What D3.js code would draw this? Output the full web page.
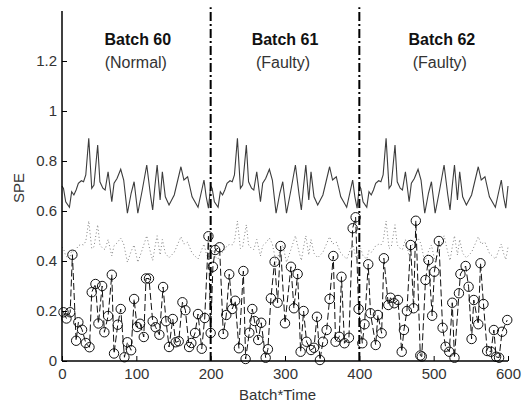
<!DOCTYPE html>
<html>
<head>
<meta charset="utf-8">
<script src="https://cdn.jsdelivr.net/npm/d3@7"></script>
<style>
  html, body { margin: 0; padding: 0; background: #fff; }
  svg { display: block; font-family: "Liberation Sans", Arial, sans-serif; }
</style>
</head>
<body>
<svg id="chart" width="528" height="406"></svg>
<script>
// ---- data ----
const batchNames = ["Batch 60", "Batch 61", "Batch 62"];
const batchStatus = ["(Normal)", "(Faulty)", "(Faulty)"];
const batchStarts = [0, 200, 400];
const batchLabelX = [102, 300, 511];
const boundaryX = [200, 400];

// control limits within one batch (same for every batch)
const limitTime = [0, 2, 5, 10, 13, 16, 19, 22, 26, 29, 32, 36, 40, 43, 48, 51, 55, 58, 62, 67, 70, 74, 79, 83, 88, 93, 97, 102, 108, 114, 119, 122, 125, 128, 132, 135, 139, 144, 151, 160, 164, 169, 175, 183, 191, 194, 197];
const limit99 = [0.70, 0.69, 0.637, 0.615, 0.677, 0.664, 0.684, 0.711, 0.721, 0.717, 0.744, 0.891, 0.691, 0.704, 0.864, 0.717, 0.691, 0.684, 0.757, 0.637, 0.711, 0.73, 0.767, 0.724, 0.591, 0.671, 0.717, 0.591, 0.684, 0.784, 0.664, 0.604, 0.70, 0.784, 0.644, 0.757, 0.657, 0.624, 0.664, 0.777, 0.724, 0.737, 0.657, 0.615, 0.724, 0.657, 0.611];
const limit95 = [0.455, 0.45, 0.42, 0.408, 0.442, 0.435, 0.446, 0.461, 0.467, 0.464, 0.479, 0.56, 0.45, 0.457, 0.545, 0.464, 0.45, 0.446, 0.486, 0.42, 0.461, 0.472, 0.492, 0.468, 0.395, 0.439, 0.464, 0.395, 0.446, 0.501, 0.435, 0.402, 0.455, 0.501, 0.424, 0.486, 0.431, 0.413, 0.435, 0.497, 0.468, 0.475, 0.431, 0.408, 0.468, 0.431, 0.406];

// SPE samples
const speTime = [2, 6, 11, 14, 19, 22, 27, 32, 37, 40, 45, 49, 54, 57, 62, 67, 70, 75, 79, 84, 88, 93, 97, 101, 105, 110, 113, 117, 122, 126, 131, 136, 140, 144, 149, 153, 157, 162, 166, 171, 174, 179, 183, 188, 192, 197, 200,
  203, 206, 212, 217, 221, 225, 229, 233, 238, 244, 247, 252, 256, 259, 264, 268, 274, 277, 281, 286, 290, 294, 300, 308, 312, 317, 321, 325, 329, 335, 339, 343, 347, 351, 356, 360, 365, 368, 373, 376, 380, 386, 391, 395, 399,
  404, 407, 412, 415, 422, 425, 430, 433, 439, 442, 447, 452, 457, 460, 464, 469, 473, 476, 482, 484, 489, 493, 498, 501, 507, 512, 516, 521, 525, 528, 534, 536, 543, 547, 551, 554, 560, 563, 567, 572, 577, 581, 584, 588, 592, 599];
const speValue = [0.195, 0.17, 0.195, 0.425, 0.081, 0.155, 0.125, 0.072, 0.055, 0.275, 0.308, 0.15, 0.30, 0.115, 0.18, 0.345, 0.03, 0.145, 0.208, 0.015, 0.075, 0.043, 0.248, 0.136, 0.149, 0.096, 0.33, 0.33, 0.159, 0.135, 0.105, 0.296, 0.159, 0.056, 0.168, 0.075, 0.079, 0.235, 0.203, 0.056, 0.072, 0.112, 0.188, 0.049, 0.172, 0.499, 0.112,
  0.377, 0.444, 0.455, 0.108, 0.184, 0.347, 0.208, 0.241, 0.051, 0.36, 0.008, 0.113, 0.208, 0.16, 0.084, 0.153, 0.013, 0.047, 0.251, 0.397, 0.233, 0.46, 0.151, 0.377, 0.211, 0.348, 0.037, 0.20, 0.077, 0.044, 0.053, 0.177, 0.004, 0.077, 0.124, 0.248, 0.42, 0.077, 0.097, 0.337, 0.071, 0.093, 0.531, 0.575, 0.208,
  0.071, 0.147, 0.387, 0.191, 0.064, 0.184, 0.111, 0.411, 0.224, 0.253, 0.231, 0.244, 0.037, 0.124, 0.20, 0.464, 0.211, 0.561, 0.022, 0.018, 0.324, 0.404, 0.181, 0.357, 0.48, 0.133, 0.057, 0.037, 0.233, 0.013, 0.271, 0.348, 0.38, 0.297, 0.088, 0.244, 0.147, 0.391, 0.228, 0.04, 0.037, 0.124, 0.017, 0.013, 0.117, 0.164];

const xTicks = [0, 100, 200, 300, 400, 500, 600];
const yTicks = [0, 0.2, 0.4, 0.6, 0.8, 1, 1.2];
const xLabel = "Batch*Time";
const yLabel = "SPE";

// ---- layout ----
const mLeft = 62, mRight = 508, mTop = 11, mBottom = 361;
const svg = d3.select("#chart");
const x = d3.scaleLinear().domain([0, 600]).range([mLeft, mRight]);
const y = d3.scaleLinear().domain([0, 1.4]).range([mBottom, mTop]);

// build limit series across batches
const lim99 = [], lim95 = [];
batchStarts.forEach(b => {
  limitTime.forEach((t, i) => {
    lim99.push([b + t, limit99[i]]);
    lim95.push([b + t, limit95[i]]);
  });
});
lim99.push([600, limit99[0]]);
lim95.push([600, limit95[0]]);

const line = d3.line().x(d => x(d[0])).y(d => y(d[1]));

svg.append("path").datum(lim95)
  .attr("d", line).attr("fill", "none")
  .attr("stroke", "#808080").attr("stroke-width", 1)
  .attr("stroke-dasharray", "1,2.5");

svg.append("path").datum(lim99)
  .attr("d", line).attr("fill", "none")
  .attr("stroke", "#3c3c3c").attr("stroke-width", 1.1);

const spe = speTime.map((t, i) => [t, speValue[i]]);
svg.append("path").datum(spe)
  .attr("d", line).attr("fill", "none")
  .attr("stroke", "#111").attr("stroke-width", 1)
  .attr("stroke-dasharray", "7,3");

svg.append("g").selectAll("circle").data(spe).join("circle")
  .attr("cx", d => x(d[0])).attr("cy", d => y(d[1]))
  .attr("r", 4.7).attr("fill", "none")
  .attr("stroke", "#111").attr("stroke-width", 1);

// batch boundaries
svg.append("g").selectAll("line").data(boundaryX).join("line")
  .attr("x1", d => x(d)).attr("x2", d => x(d))
  .attr("y1", y(0)).attr("y2", y(1.415))
  .attr("stroke", "#000").attr("stroke-width", 2)
  .attr("stroke-dasharray", "9,3,2,3");

// axes
const xAxis = d3.axisBottom(x).tickValues(xTicks).tickSize(-5).tickPadding(10).tickFormat(d3.format("d"));
const yAxis = d3.axisLeft(y).tickValues(yTicks).tickSize(-5).tickPadding(8).tickFormat(d => d === 0 || d === 1 ? String(d) : d3.format(".1f")(d));

const gx = svg.append("g").attr("transform", `translate(0,${mBottom})`).call(xAxis);
const gy = svg.append("g").attr("transform", `translate(${mLeft},0)`).call(yAxis);
[gx, gy].forEach(g => {
  g.select(".domain").remove();
  g.selectAll(".tick line").attr("stroke", "#000");
  g.selectAll(".tick text").attr("fill", "#333").style("font-size", "15px")
    .style("font-family", "'Liberation Sans', Arial, sans-serif");
});
gx.selectAll(".tick text").attr("dy", "0.71em").attr("y", 7);
gy.selectAll(".tick text").attr("x", -5);
svg.append("line").attr("x1", mLeft).attr("x2", mRight).attr("y1", mBottom).attr("y2", mBottom)
  .attr("stroke", "#000").attr("stroke-width", 1.5);
svg.append("line").attr("x1", mLeft).attr("x2", mLeft).attr("y1", mBottom).attr("y2", y(1.4))
  .attr("stroke", "#000").attr("stroke-width", 1.5);

// axis labels
svg.append("text").attr("x", x(290)).attr("y", 400)
  .attr("text-anchor", "middle").attr("fill", "#333").style("font-size", "15px").text(xLabel);
svg.append("text").attr("transform", "translate(24,188) rotate(-90)")
  .attr("text-anchor", "middle").attr("fill", "#333").style("font-size", "15px").text(yLabel);

// batch annotations
batchNames.forEach((name, i) => {
  svg.append("text").attr("x", x(batchLabelX[i])).attr("y", 45)
    .attr("text-anchor", "middle").attr("fill", "#111")
    .style("font-size", "16px").style("font-weight", "bold").text(name);
  svg.append("text").attr("x", x(batchLabelX[i]) - 2).attr("y", 68)
    .attr("text-anchor", "middle").attr("fill", "#333")
    .style("font-size", "16px").text(batchStatus[i]);
});
</script>
</body>
</html>
